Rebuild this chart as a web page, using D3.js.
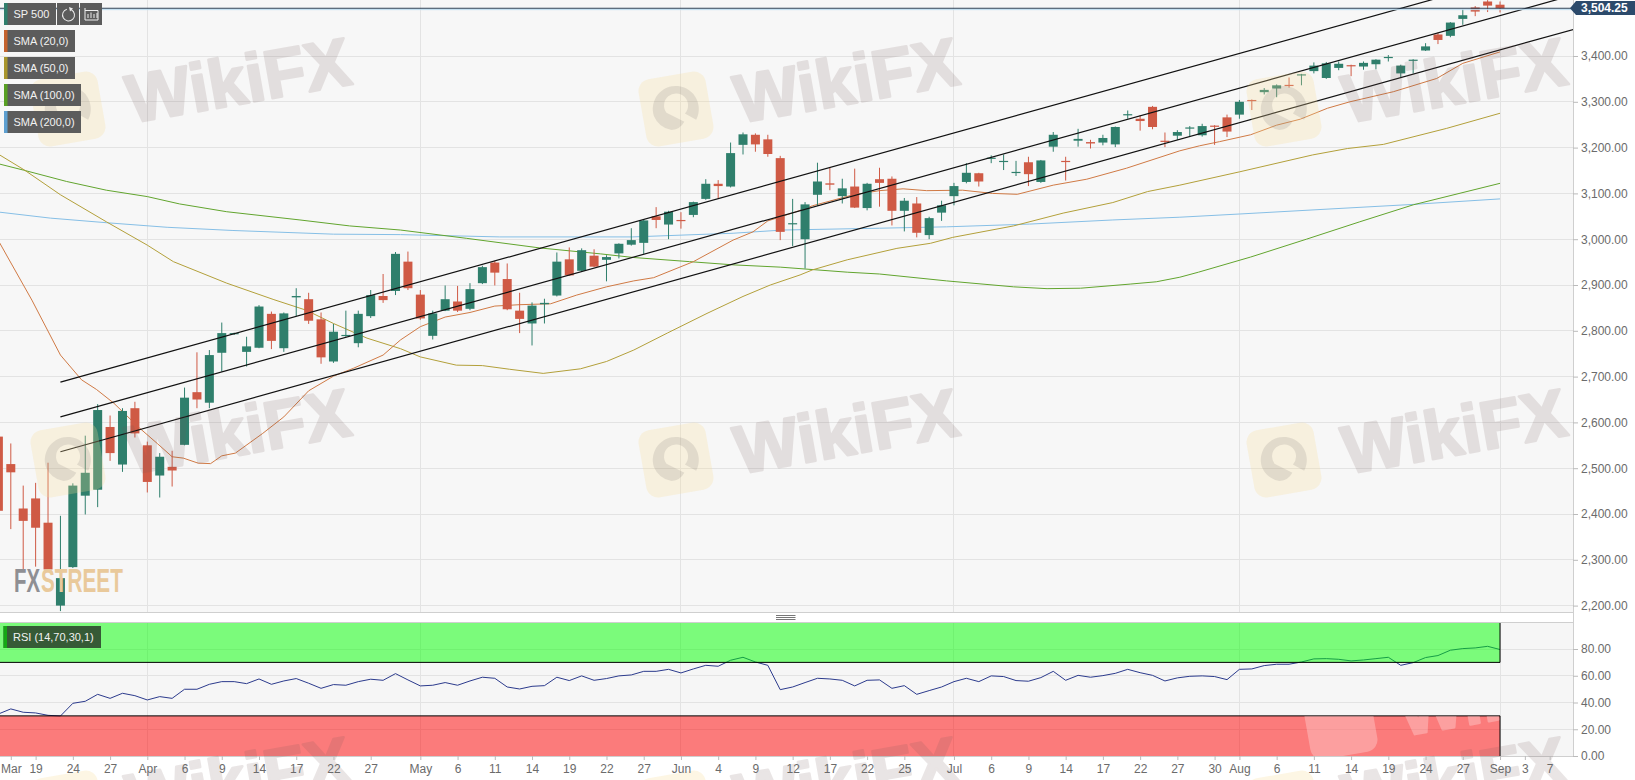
<!DOCTYPE html>
<html><head><meta charset="utf-8">
<script src="https://cdnjs.cloudflare.com/ajax/libs/d3/7.8.5/d3.min.js"></script>
<style>html,body{margin:0;padding:0;background:#fff;overflow:hidden}svg{display:block}</style>
</head><body><div id="chart"></div>
<script>
// Daily candles, oldest first; the last entry is the newest session.
const opens=[2569,2509,2412,2434,2381,2200,2284,2440,2453,2590,2508,2631,2550,2484,2503,2551,2666,2643,2752,2793,2754,2763,2837,2762,2873,2869,2825,2733,2789,2773,2832,2876,2887,2951,2879,2789,2844,2864,2848,2904,2949,2913,2844,2816,2858,2877,2956,2931,2964,2955,2969,2988,2992,3050,3032,3042,3053,3088,3121,3115,3206,3228,3218,3177,3033,3000,3097,3122,3094,3115,3068,3131,3132,3062,3078,3009,3058,3094,3125,3144,3176,3170,3145,3168,3125,3202,3171,3215,3212,3211,3207,3271,3263,3289,3215,3226,3242,3227,3248,3266,3272,3304,3321,3329,3337,3358,3367,3352,3374,3380,3377,3382,3396,3362,3391,3412,3447,3444,3481,3506,3519,3512];
const highs=[2583,2554,2462,2468,2512,2396,2467,2571,2640,2615,2631,2645,2558,2533,2538,2676,2753,2758,2818,2796,2787,2856,2842,2840,2893,2883,2840,2815,2844,2844,2889,2924,2972,2973,2889,2844,2899,2898,2904,2942,2953,2947,2883,2862,2870,2971,2982,2980,2978,2965,2991,3024,3044,3070,3062,3059,3082,3131,3129,3211,3233,3231,3228,3182,3088,3081,3167,3156,3132,3154,3123,3156,3137,3090,3092,3049,3084,3123,3166,3145,3183,3185,3171,3180,3173,3234,3180,3241,3217,3228,3246,3281,3271,3291,3233,3238,3247,3252,3249,3272,3304,3305,3330,3338,3353,3361,3386,3387,3388,3381,3388,3393,3402,3381,3393,3428,3451,3474,3502,3509,3522,3519];
const lows=[2398,2367,2278,2285,2273,2188,2282,2399,2415,2516,2492,2567,2447,2436,2460,2550,2631,2631,2711,2791,2722,2762,2760,2754,2832,2815,2728,2730,2787,2764,2828,2861,2878,2889,2824,2781,2843,2841,2845,2902,2899,2845,2795,2768,2816,2875,2920,2929,2939,2908,2958,2986,2968,3024,3000,3023,3048,3086,3089,3113,3185,3191,3180,2998,2985,2936,3073,3107,3078,3068,3063,3071,3030,3017,3004,3000,3040,3074,3122,3115,3166,3151,3138,3116,3123,3191,3128,3202,3198,3205,3201,3263,3237,3240,3201,3217,3224,3224,3206,3223,3263,3282,3316,3310,3331,3336,3362,3350,3369,3356,3370,3371,3388,3354,3362,3411,3426,3441,3468,3487,3496,3495];
const closes=[2407,2491,2385,2370,2279,2260,2462,2490,2627,2533,2625,2576,2470,2525,2495,2654,2650,2747,2795,2795,2766,2853,2778,2838,2876,2822,2742,2798,2791,2837,2878,2867,2968,2893,2827,2838,2869,2844,2891,2939,2927,2847,2826,2855,2861,2951,2921,2976,2940,2961,2990,2998,3041,3042,3060,3040,3081,3121,3116,3188,3229,3207,3186,3016,3035,3076,3126,3119,3111,3069,3121,3123,3062,3084,3014,3046,3074,3116,3145,3126,3178,3171,3147,3142,3172,3228,3170,3219,3209,3221,3245,3273,3258,3245,3213,3234,3244,3247,3246,3235,3300,3302,3326,3336,3335,3360,3379,3384,3383,3378,3385,3392,3398,3379,3392,3421,3435,3473,3489,3497,3510,3504.25];
const rsiValues=[31.4,35.2,32.7,32.2,30.4,29.9,39.4,40.9,46.1,43.1,46.9,45.1,41.9,44.4,43.1,49.9,49.9,53.6,55.6,55.6,54.1,57.6,53.6,56.1,57.9,54.4,50.6,53.4,52.9,55.6,57.4,56.6,61.6,56.9,52.4,52.9,54.9,52.9,56.1,58.9,58.1,51.6,50.1,52.1,52.6,58.9,56.4,59.9,56.6,57.9,59.9,60.6,63.3,63.3,64.8,62.1,65.1,67.8,67.1,71.6,73.8,70.3,67.8,49.6,51.6,54.9,58.1,57.6,56.6,52.4,56.6,56.9,50.6,52.6,46.1,48.9,51.6,55.6,58.1,55.6,59.9,59.4,56.4,55.9,58.6,63.3,56.6,60.3,58.9,60.1,61.8,64.8,62.3,60.3,56.1,58.4,59.6,59.9,59.4,57.1,64.8,65.1,67.6,68.6,68.6,70.3,72.6,72.8,72.3,71.1,71.8,72.8,73.8,67.8,69.8,73.6,75.1,79.1,80.3,80.8,82.0,79.6];

// Moving averages: sessions before the last one, and the value there.
const sma20Back=[120.9,118.3,116,114.3,113.1,111.7,109.6,108.2,107,106.1,104.9,103.9,103,101.9,99.7,98,96,94,92.4,90,88.6,87,85,83,81,79,76.5,74.4,72,69.8,68.2,65,61.8,60.2,59,56.7,55.4,52.1,50,48.1,46.2,43.3,40.9,38.9,36,33.3,30.1,25.8,24.2,22.6,20.1,18,16.1,13.9,12.1,8.6,5.1,3,0];
const sma20Values=[2992,2867,2747,2693,2672,2642,2587,2554,2525,2522,2511,2510,2527,2533,2576,2612,2669,2701,2718,2747,2780,2809,2830,2840,2854,2857,2859,2878,2896,2909,2916,2951,2998,3016,3040,3060,3073,3097,3106,3110,3106,3107,3100,3098,3118,3131,3155,3193,3204,3213,3228,3249,3262,3286,3300,3322,3351,3384,3409];
const sma50Back=[120.9,118.9,116,112.3,109,106.9,102.6,98.8,96.2,94,91.3,88.6,87,84.1,82,79.8,77.1,74.1,72,69.8,67.1,63.9,61,58.8,56.4,55.4,52.6,48.6,45.9,44.1,39.2,35.2,31.2,28.4,25.8,21,15.1,12.3,9.4,4.3,0];
const sma50Values=[3184,3151,3097,3038,2987,2951,2904,2868,2845,2816,2784,2761,2743,2725,2724,2716,2707,2717,2733,2758,2795,2838,2875,2900,2922,2933,2955,2980,2991,3004,3029,3057,3080,3104,3118,3147,3184,3198,3207,3242,3275];
const sma100Back=[120.9,119,115.5,112.3,109,106.4,102.6,96.7,92.7,88.6,83.3,77.4,72.5,69.8,65.3,61.8,58,52.6,50,44.6,39.2,36.5,33.8,29.8,27.7,25.8,24.3,20.1,15.6,11.3,7,0];
const sma100Values=[3164,3151,3126,3107,3093,3077,3060,3042,3029,3020,3002,2981,2968,2960,2951,2944,2939,2928,2924,2909,2896,2892,2893,2902,2907,2917,2928,2961,3000,3038,3075,3122];
const sma200Back=[120.9,116.8,112.3,107.4,102.1,94,88.6,80.6,69.9,61.8,57.8,50,44.6,37.9,31.2,25.8,21,13.7,7,0];
const sma200Values=[3059,3046,3036,3026,3019,3011,3010,3005,3005,3013,3020,3024,3027,3033,3042,3048,3055,3066,3076,3088];

// Parallel channel: each line's value at its start and end session.
const channelBack=[116,-5.9];
const channelUpper=[2688,3609];
const channelMiddle=[2612,3533];
const channelLower=[2536,3458];

const lastPrice=3504.25;
const priceTicks=[2200,2300,2400,2500,2600,2700,2800,2900,3000,3100,3200,3300,3400];
const rsiTicks=[0,20,40,60,80];
const dateBack=[120,118,115,112,109,106,103,100,97,94,91,87,84,81,78,75,72,69,66,63,60,57,54,51,48,44,41,38,35,32,29,26,23,21,18,15,12,9,6,3,0,-2,-4];
const dateLabels=["Mar","19","24","27","Apr","6","9","14","17","22","27","May","6","11","14","19","22","27","Jun","4","9","12","17","22","25","Jul","6","9","14","17","22","27","30","Aug","6","11","14","19","24","27","Sep","3","7"];
const monthBack=[109,87,66,44,21,0];
const legendNames=["SMA (20,0)","SMA (50,0)","SMA (100,0)","SMA (200,0)"];
const legendColors=["#c4622d","#a8952c","#58a023","#5d9fd0"];

const W=1635,H=780,plotR=1573,font="'Liberation Sans',Arial,sans-serif";
const UP="#2f7f6c",DOWN="#cf5a45",GRID="#e3e3e3";
const svg=d3.select("#chart").append("svg").attr("width",W).attr("height",H).attr("font-family",font);
const x=d3.scaleLinear().domain([120.87,-5.88]).range([0,plotR]);
const y=d3.scaleLinear().domain([2200,3400]).range([605.6,56]);
const r=d3.scaleLinear().domain([0,100]).range([756,622.25]);
const n=closes.length;
const candles=closes.map((c,i)=>({back:n-1-i,o:opens[i],h:highs[i],l:lows[i],c}));

svg.append("rect").attr("width",W).attr("height",H).attr("fill","#fff");
svg.append("rect").attr("width",plotR).attr("height",612).attr("fill","#f7f7f7");
svg.append("rect").attr("y",622.25).attr("width",plotR).attr("height",133.75).attr("fill","#f6f6f6");
const defs=svg.append("defs");
defs.append("clipPath").attr("id","clipMain").append("rect").attr("width",plotR).attr("height",612);
defs.append("clipPath").attr("id","clipRsi").append("rect").attr("y",622.25).attr("width",plotR).attr("height",133.75);
defs.append("clipPath").attr("id","clipRed").append("rect").attr("y",r(30)).attr("width",x(0)).attr("height",r(0)-r(30));

// grid
const grid=svg.append("g").attr("stroke",GRID).attr("stroke-width",1).attr("shape-rendering","crispEdges");
grid.selectAll(".h").data(priceTicks).join("line").attr("x1",0).attr("x2",plotR).attr("y1",d=>y(d)).attr("y2",d=>y(d));
grid.selectAll(".m").data(monthBack).join("line").attr("x1",d=>x(d)).attr("x2",d=>x(d)).attr("y1",0).attr("y2",612);
grid.selectAll(".r").data(rsiTicks).join("line").attr("x1",0).attr("x2",plotR).attr("y1",d=>r(d)).attr("y2",d=>r(d));
grid.selectAll(".n").data(monthBack).join("line").attr("x1",d=>x(d)).attr("x2",d=>x(d)).attr("y1",622).attr("y2",756);

const main=svg.append("g").attr("clip-path","url(#clipMain)");
// moving averages
const maLine=d3.line().x(d=>x(d[0])).y(d=>y(d[1]));
[[sma200Back,sma200Values,"#86bfe6"],[sma100Back,sma100Values,"#62a52e"],[sma50Back,sma50Values,"#b3a03a"],[sma20Back,sma20Values,"#d07a45"]].forEach(([b,v,c])=>{
  main.append("path").attr("d",maLine(b.map((k,i)=>[k,v[i]]))).attr("fill","none").attr("stroke",c).attr("stroke-width",1);
});
// candles
const cg=main.append("g").selectAll("g").data(candles).join("g");
cg.append("line").attr("x1",d=>x(d.back)).attr("x2",d=>x(d.back)).attr("y1",d=>y(d.h)).attr("y2",d=>y(d.l))
  .attr("stroke",d=>d.c>=d.o?UP:DOWN).attr("stroke-width",1);
cg.append("rect").attr("x",d=>x(d.back)-4.5).attr("width",9)
  .attr("y",d=>y(Math.max(d.o,d.c))).attr("height",d=>Math.max(1.2,Math.abs(y(d.o)-y(d.c))))
  .attr("fill",d=>d.c>=d.o?UP:DOWN);
// channel
[channelUpper,channelMiddle,channelLower].forEach(v=>{
  main.append("line").attr("x1",x(channelBack[0])).attr("x2",x(channelBack[1])).attr("y1",y(v[0])).attr("y2",y(v[1]))
    .attr("stroke","#111").attr("stroke-width",1.2);
});
// last price lines
svg.append("line").attr("x1",0).attr("x2",plotR).attr("y1",y(lastPrice)+1.4).attr("y2",y(lastPrice)+1.4).attr("stroke","#bcdcf0").attr("stroke-width",1);
svg.append("line").attr("x1",0).attr("x2",plotR).attr("y1",y(lastPrice)).attr("y2",y(lastPrice)).attr("stroke","#2c4257").attr("stroke-width",1);

// RSI
const rsiG=svg.append("g").attr("clip-path","url(#clipRsi)");
rsiG.append("path").attr("d",d3.line().x((d,i)=>x(n-1-i)).y(d=>r(d))(rsiValues)).attr("fill","none").attr("stroke","#2b3a8c").attr("stroke-width",1);
rsiG.append("rect").attr("y",r(100)).attr("width",x(0)).attr("height",r(70)-r(100)).attr("fill","rgba(0,255,0,.5)");
rsiG.append("rect").attr("y",r(30)).attr("width",x(0)).attr("height",r(0)-r(30)).attr("fill","rgba(255,0,0,.5)");
rsiG.append("line").attr("x1",0).attr("x2",x(0)).attr("y1",r(70)).attr("y2",r(70)).attr("stroke","#000");
rsiG.append("line").attr("x1",0).attr("x2",x(0)).attr("y1",r(30)).attr("y2",r(30)).attr("stroke","#000");
rsiG.append("line").attr("x1",x(0)).attr("x2",x(0)).attr("y1",r(100)).attr("y2",r(70)).attr("stroke","#000");
rsiG.append("line").attr("x1",x(0)).attr("x2",x(0)).attr("y1",r(30)).attr("y2",r(0)).attr("stroke","#000");

// frames
const frame=svg.append("g").attr("stroke","#cfcfcf").attr("shape-rendering","crispEdges");
frame.append("line").attr("x1",plotR).attr("x2",plotR).attr("y1",0).attr("y2",756);
frame.append("line").attr("x1",0).attr("x2",plotR).attr("y1",612.5).attr("y2",612.5);
frame.append("line").attr("x1",0).attr("x2",plotR).attr("y1",622).attr("y2",622);
frame.append("line").attr("x1",0).attr("x2",plotR).attr("y1",756).attr("y2",756);
[615.5,617.5,619.5].forEach(v=>svg.append("line").attr("x1",776).attr("x2",795.5).attr("y1",v).attr("y2",v).attr("stroke","#777"));

// WikiFX watermarks
function watermark(cx,cy,parent,textFill,textAlpha,logoFill,dark){
  const lg=parent.append("g").attr("transform",`translate(${cx},${cy}) rotate(-10)`);
  lg.append("rect").attr("x",-34).attr("y",-34).attr("width",68).attr("height",68).attr("rx",12).attr("fill",logoFill);
  if(dark){
    lg.append("path").attr("d","M-23,3 A23,23 0 1 1 18,14 L8,6 A12,12 0 1 0 -10,2 L6,14 A16,16 0 0 1 -8,20 A24,24 0 0 1 -23,3 Z").attr("fill",dark);
  }
  const tg=parent.append("g").attr("transform",`translate(${cx+170},${cy-30}) rotate(-10)`).attr("opacity",textAlpha);
  tg.append("text").attr("text-anchor","middle").attr("y",25).attr("font-size",68).attr("font-weight","bold").attr("font-family",font)
    .attr("fill",textFill).attr("stroke",textFill).attr("stroke-width",2.5).attr("stroke-linejoin","round").text("WikiFX");
}
const wm=svg.append("g").attr("pointer-events","none");
[[68,109],[676,109],[1284,109],[68,460],[676,460],[1284,460],[68,808],[676,808],[1284,808]].forEach(([a,b])=>{
  watermark(a,b,wm,"#735555",.15,"rgba(248,222,150,.26)","rgba(110,105,105,.16)");
});
const wmRed=svg.append("g").attr("clip-path","url(#clipRed)");
watermark(1340,722,wmRed,"#fff",.28,"rgba(255,255,255,.28)",null);

// axes
function styleAxis(g){g.select(".domain").remove();g.selectAll("line").attr("stroke","#bbb");g.selectAll("text").attr("fill","#6b6b6b").attr("font-size",12).attr("font-family",font);}
svg.append("g").attr("transform",`translate(${plotR},0)`).call(d3.axisRight(y).tickValues(priceTicks).tickFormat(d3.format(",.2f")).tickSize(5).tickPadding(3)).call(styleAxis);
svg.append("g").attr("transform",`translate(${plotR},0)`).call(d3.axisRight(r).tickValues(rsiTicks).tickFormat(d3.format(".2f")).tickSize(5).tickPadding(3)).call(styleAxis);
const bottom=d3.axisBottom(x).tickValues(dateBack).tickFormat(d=>dateLabels[dateBack.indexOf(d)]).tickSize(4).tickPadding(4);
svg.append("g").attr("transform","translate(0,756)").call(bottom).call(styleAxis);

// last price tag
svg.append("path").attr("d",`M${plotR-3},${y(lastPrice)} L${plotR+3},1 H${W} V15 H${plotR+3} Z`).attr("fill","#2c4a6b");
svg.append("text").attr("x",1581).attr("y",y(lastPrice)+4).attr("fill","#fff").attr("font-size",12).attr("font-weight","bold").text(d3.format(",.2f")(lastPrice));

// legends
function chip(x0,y0,w,h,fill,bar,label){
  svg.append("rect").attr("x",x0).attr("y",y0).attr("width",w).attr("height",h).attr("fill",fill);
  if(bar)svg.append("rect").attr("x",x0).attr("y",y0).attr("width",3.5).attr("height",h).attr("fill",bar);
  if(label)svg.append("text").attr("x",x0+9.5).attr("y",y0+15).attr("fill","#f2f2f2").attr("font-size",11).attr("font-weight",500).text(label);
}
chip(4,3,52,22,"#5c5c5c",UP,"SP 500");
chip(57,3,22,22,"#5c5c5c");
chip(80,3,22,22,"#5c5c5c");
svg.append("path").attr("d",d3.arc()({innerRadius:5.5,outerRadius:6.5,startAngle:0.5,endAngle:6.0})).attr("transform","translate(68.5,15)").attr("fill","#eee");
svg.append("path").attr("d","M69,7 l4,1.5 l-3,3 z").attr("fill","#eee");
svg.append("path").attr("d","M85,10.5 H98 V20 H85 V8 M88,14 V18 M91,12.5 V18 M94,14 V18 M97,13 V18").attr("fill","none").attr("stroke","#eee").attr("stroke-width",1);
legendNames.forEach((t,i)=>chip(4,30+i*27,i<2?71:77,22,"#5c5c5c",legendColors[i],t));
chip(3.5,626,97.5,22,"#365a36","#14a814","RSI (14,70,30,1)");

// FXStreet mark
svg.append("text").attr("transform","translate(14,592) scale(.6,1)").attr("font-weight","bold").attr("font-size",34).attr("fill","#8f8f93").text("FX");
svg.append("text").attr("transform","translate(41,592) scale(.61,1)").attr("font-weight","bold").attr("font-size",34).attr("fill","#e9c99b").text("STREET");
</script></body></html>
